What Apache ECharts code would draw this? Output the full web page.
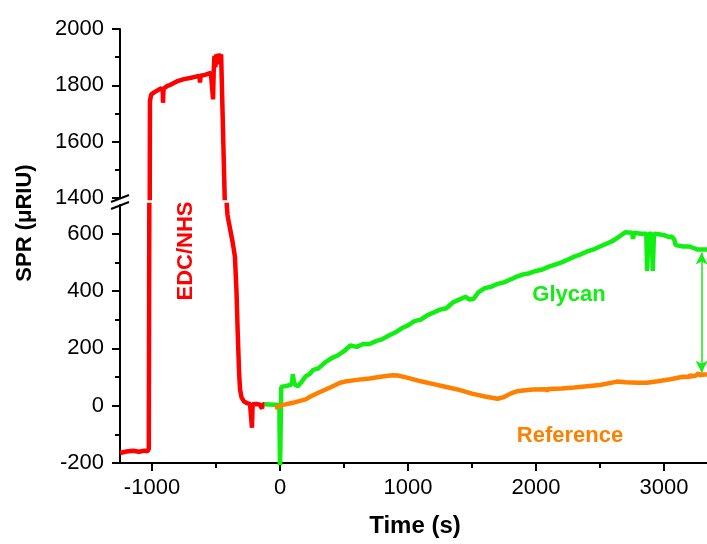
<!DOCTYPE html>
<html>
<head>
<meta charset="utf-8">
<script src="https://cdn.jsdelivr.net/npm/echarts@6/dist/echarts.min.js"></script>
<style>
  html, body { margin: 0; padding: 0; background: #fff; }
  #chart { width: 707px; height: 544px; }
</style>
</head>
<body>
<div id="chart"></div>
<script>
  'use strict'
  /*----- data -----*/
  var xMajorTicks = [-1000, 0, 1000, 2000, 3000];
  var xMinorTicks = [-500, 500, 1500, 2500];
  var yLowMajorTicks = [-200, 0, 200, 400, 600];
  var yLowMinorTicks = [-100, 100, 300, 500];

  // EDC/NHS activation trace
  var edcNhs = [
    [-1250, -165], [-1200, -160], [-1150, -157], [-1100, -161], [-1060, -157], [-1035, -159],
    [-1025, -150], [-1016, 1745], [-1005, 1768], [-980, 1776], [-950, 1784], [-925, 1790],
    [-916, 1782], [-914, 1738], [-910, 1788], [-880, 1798], [-859, 1801], [-800, 1815],
    [-750, 1822], [-703, 1826], [-648, 1832], [-630, 1833], [-625, 1810], [-620, 1834],
    [-586, 1837], [-540, 1844], [-528, 1846], [-523, 1750], [-518, 1850], [-512, 1905],
    [-505, 1865], [-498, 1910], [-490, 1875], [-480, 1912], [-470, 1895], [-460, 1910],
    [-452, 1905], [-432, 1400], [-416, 700], [-410, 665], [-400, 640], [-385, 605],
    [-370, 570], [-352, 520], [-340, 400], [-330, 250], [-320, 120], [-312, 56],
    [-300, 28], [-280, 14], [-260, 9], [-234, 6], [-224, 5], [-219, -77], [-214, 5],
    [-190, 6], [-160, 4], [-145, 8], [-140, -10], [-135, 5], [-120, 4]
  ];

  // Glycan channel
  var glycan = [
    [-120, 5], [-80, 4], [-40, 3], [-5, 2], [0, -230], [8, -230], [10, 65], [40, 68],
    [80, 72], [95, 80], [100, 110], [108, 85], [120, 72], [140, 68], [160, 78], [180, 90],
    [200, 102], [230, 110], [260, 125], [300, 130], [350, 150], [400, 165], [450, 175],
    [500, 190], [550, 210], [600, 205], [650, 215], [700, 215], [750, 225], [800, 232],
    [850, 245], [900, 255], [950, 270], [1000, 280], [1050, 295], [1100, 300], [1150, 315],
    [1200, 325], [1250, 335], [1300, 340], [1350, 360], [1400, 370], [1450, 380],
    [1480, 370], [1510, 372], [1550, 395], [1600, 410], [1650, 415], [1700, 425],
    [1750, 430], [1800, 440], [1850, 450], [1900, 458], [1950, 462], [2000, 470],
    [2050, 475], [2100, 485], [2150, 492], [2200, 500], [2250, 510], [2300, 520],
    [2350, 528], [2400, 538], [2450, 545], [2500, 555], [2550, 565], [2600, 575],
    [2650, 590], [2700, 605], [2750, 603], [2758, 582], [2765, 603], [2820, 600],
    [2862, 600], [2868, 470], [2880, 600], [2905, 600], [2912, 470], [2922, 600],
    [2960, 598], [3000, 595], [3040, 588], [3060, 590], [3080, 580], [3090, 560],
    [3150, 555], [3200, 555], [3230, 550], [3260, 545], [3300, 545], [3336, 545]
  ];

  // Reference channel
  var reference = [
    [-40, -8], [-20, -5], [0, 0], [100, 10], [200, 22], [234, 31], [300, 45], [400, 65],
    [470, 80], [508, 84], [600, 90], [700, 95], [800, 102], [880, 106], [920, 105],
    [1000, 97], [1100, 85], [1200, 75], [1300, 65], [1400, 55], [1500, 42], [1600, 32],
    [1700, 24], [1750, 30], [1800, 42], [1850, 50], [1900, 53], [1977, 56], [2080, 57],
    [2086, 49], [2092, 58], [2200, 60], [2300, 63], [2400, 68], [2500, 72], [2633, 84],
    [2700, 82], [2800, 80], [2867, 80], [2950, 85], [3050, 92], [3148, 101], [3200, 100],
    [3205, 110], [3212, 102], [3250, 105], [3270, 114], [3278, 106], [3305, 108], [3336, 110]
  ];

  // difference arrow between the two channels
  var arrowX = 3294;
  var arrowFrom = 534;
  var arrowTo = 115;

  var chart = echarts.init(document.getElementById('chart'), null, { renderer: 'canvas' });

  var font = 'Liberation Sans, Arial, sans-serif';
  var black = '#000';
  var axisLine = { onZero: false, lineStyle: { color: black, width: 2 } };
  var plain = function (v) { return String(v); };
  var labelStyle = { color: black, fontSize: 22, fontFamily: font, formatter: plain };

  var option = {
    animation: false,
    backgroundColor: '#fff',
    grid: [
      { left: 120, right: 0, top: 29, height: 169 },
      { left: 120, right: 0, top: 205, bottom: 81 }
    ],
    xAxis: [
      { gridIndex: 0, type: 'value', min: -1250, max: 3336, show: false },
      {
        gridIndex: 1, type: 'value', min: -1250, max: 3336, position: 'bottom',
        axisLine: axisLine,
        axisTick: { length: 8, lineStyle: { color: black, width: 2 }, customValues: xMajorTicks },
        axisLabel: Object.assign({ margin: 14, customValues: xMajorTicks }, labelStyle),
        splitLine: { show: false }
      },
      {
        gridIndex: 1, type: 'value', min: -1250, max: 3336, position: 'bottom',
        axisLine: { show: false, onZero: false },
        axisTick: { length: 5, lineStyle: { color: black, width: 2 }, customValues: xMinorTicks },
        axisLabel: { show: false },
        splitLine: { show: false }
      }
    ],
    yAxis: [
      {
        gridIndex: 0, type: 'value', min: 1400, max: 2000, interval: 200,
        axisLine: axisLine,
        axisTick: { length: 8, lineStyle: { color: black, width: 2 } },
        minorTick: { show: true, splitNumber: 2, length: 5, lineStyle: { color: black, width: 2 } },
        axisLabel: Object.assign({ margin: 16 }, labelStyle),
        splitLine: { show: false }
      },
      {
        gridIndex: 1, type: 'value', min: -200, max: 700, position: 'left',
        axisLine: axisLine,
        axisTick: { length: 8, lineStyle: { color: black, width: 2 }, customValues: yLowMajorTicks },
        axisLabel: Object.assign({ margin: 16, customValues: yLowMajorTicks }, labelStyle),
        splitLine: { show: false }
      },
      {
        gridIndex: 1, type: 'value', min: -200, max: 700, position: 'left',
        axisLine: { show: false, onZero: false },
        axisTick: { length: 5, lineStyle: { color: black, width: 2 }, customValues: yLowMinorTicks },
        axisLabel: { show: false },
        splitLine: { show: false }
      }
    ],
    series: [
      {
        name: 'EDC/NHS top', type: 'line', xAxisIndex: 0, yAxisIndex: 0,
        data: edcNhs, showSymbol: false, symbol: 'none', clip: true,
        lineStyle: { color: '#ff0000', width: 4.5 }
      },
      {
        name: 'EDC/NHS', type: 'line', xAxisIndex: 1, yAxisIndex: 1,
        data: edcNhs, showSymbol: false, symbol: 'none', clip: true,
        lineStyle: { color: '#ff0000', width: 4.5 }
      },
      {
        name: 'Glycan', type: 'line', xAxisIndex: 1, yAxisIndex: 1,
        data: glycan, showSymbol: false, symbol: 'none', clip: true,
        lineStyle: { color: '#11ee11', width: 4.5 },
        markLine: {
          silent: true,
          symbol: ['arrow', 'arrow'],
          symbolSize: [9, 12],
          label: { show: false },
          lineStyle: { color: '#11ee11', width: 1.5, type: 'solid' },
          data: [[{ coord: [arrowX, arrowFrom] }, { coord: [arrowX, arrowTo] }]]
        }
      },
      {
        name: 'Reference', type: 'line', xAxisIndex: 1, yAxisIndex: 1,
        data: reference, showSymbol: false, symbol: 'none', clip: true,
        lineStyle: { color: '#ff8000', width: 4.5 }
      }
    ],
    graphic: [
      // axis break marks
      { type: 'line', shape: { x1: 111, y1: 202, x2: 129, y2: 195 }, style: { stroke: black, lineWidth: 2 }, z: 100 },
      { type: 'line', shape: { x1: 111, y1: 209, x2: 129, y2: 202 }, style: { stroke: black, lineWidth: 2 }, z: 100 },
      {
        type: 'text', x: 25, y: 223, rotation: Math.PI / 2,
        style: { text: 'SPR (μRIU)', font: 'bold 22px ' + font, fill: black, align: 'center', verticalAlign: 'middle' }
      },
      {
        type: 'text', x: 415, y: 526,
        style: { text: 'Time (s)', font: 'bold 24px ' + font, fill: black, align: 'center', verticalAlign: 'middle' }
      },
      {
        type: 'text', x: 186, y: 251, rotation: Math.PI / 2,
        style: { text: 'EDC/NHS', font: 'bold 22px ' + font, fill: '#ff0000', align: 'center', verticalAlign: 'middle' }
      },
      {
        type: 'text', x: 569, y: 295,
        style: { text: 'Glycan', font: 'bold 22px ' + font, fill: '#11ee11', align: 'center', verticalAlign: 'middle' }
      },
      {
        type: 'text', x: 570, y: 436,
        style: { text: 'Reference', font: 'bold 22px ' + font, fill: '#ff8000', align: 'center', verticalAlign: 'middle' }
      }
    ]
  };

  chart.setOption(option);
</script>
</body>
</html>
